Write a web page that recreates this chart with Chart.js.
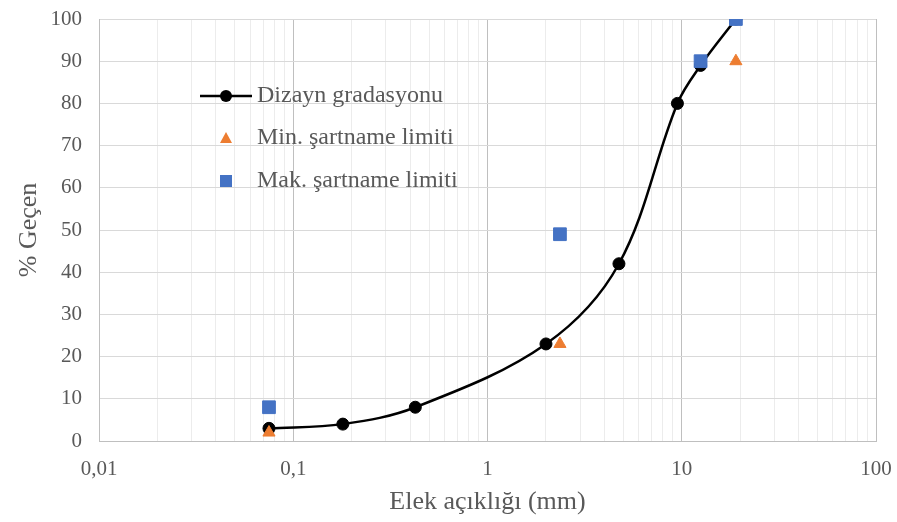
<!DOCTYPE html>
<html>
<head>
<meta charset="utf-8">
<script src="https://cdn.jsdelivr.net/npm/chart.js@4"></script>
<style>
  html, body { margin: 0; padding: 0; background: #fff; }
  #wrap { width: 897px; height: 522px; }
</style>
</head>
<body>
<div id="wrap"><canvas id="c" width="897" height="522"></canvas></div>
<script>
// sieve sizes (mm) and passing %
const designSizes = [0.075, 0.18, 0.425, 2, 4.75, 9.5, 12.5, 19];
const designPass = [3, 4, 8, 23, 42, 80, 89, 100];
const minSizes = [0.075, 2.36, 19];
const minPass = [2, 23, 90];
const maxSizes = [0.075, 2.36, 12.5, 19];
const maxPass = [8, 49, 90, 100];
const xMajorTicks = [0.01, 0.1, 1, 10, 100];
const yTicks = [0, 10, 20, 30, 40, 50, 60, 70, 80, 90, 100];

const labels = ["Dizayn gradasyonu", "Min. şartname limiti", "Mak. şartname limiti"];
const textColor = "#595959";
const serif = "'Liberation Serif', 'DejaVu Serif', serif";

const toXY = (xs, ys) => xs.map((x, i) => ({ x: x, y: ys[i] }));

// legend drawn inside plot area, like the original
const innerLegend = {
  id: "innerLegend",
  afterDraw(chart) {
    const ctx = chart.ctx;
    const rows = [96, 138, 181];
    ctx.save();
    ctx.font = "24px " + serif;
    ctx.textBaseline = "middle";
    chart.data.datasets.forEach((ds, i) => {
      const y = rows[i];
      if (i === 0) {
        ctx.strokeStyle = "#000";
        ctx.lineWidth = 2.5;
        ctx.beginPath();
        ctx.moveTo(200, y);
        ctx.lineTo(252, y);
        ctx.stroke();
        ctx.fillStyle = "#000";
        ctx.beginPath();
        ctx.arc(226, y, 6, 0, Math.PI * 2);
        ctx.fill();
      } else if (i === 1) {
        ctx.fillStyle = ds.backgroundColor;
        ctx.beginPath();
        ctx.moveTo(226, y - 6);
        ctx.lineTo(232, y + 5);
        ctx.lineTo(220, y + 5);
        ctx.closePath();
        ctx.fill();
      } else {
        ctx.fillStyle = ds.backgroundColor;
        ctx.fillRect(220, y - 6, 12, 12);
      }
      ctx.fillStyle = textColor;
      ctx.fillText(ds.label, 257, y);
    });
    ctx.restore();
  }
};

new Chart(document.getElementById("c"), {
  type: "scatter",
  data: {
    datasets: [
      {
        label: labels[0],
        data: toXY(designSizes, designPass),
        showLine: true,
        borderColor: "#000",
        backgroundColor: "#000",
        borderWidth: 2.5,
        pointRadius: 6,
        pointHoverRadius: 6,
        pointBorderWidth: 1,
        tension: 0.35,
        order: 3
      },
      {
        label: labels[1],
        data: toXY(minSizes, minPass),
        pointStyle: "triangle",
        backgroundColor: "#ED7D31",
        borderColor: "#ED7D31",
        pointRadius: 7,
        order: 2
      },
      {
        label: labels[2],
        data: toXY(maxSizes, maxPass),
        pointStyle: "rect",
        backgroundColor: "#4472C4",
        borderColor: "#4472C4",
        pointRadius: 9,
        order: 1
      }
    ]
  },
  options: {
    responsive: false,
    animation: false,
    layout: { padding: { top: 19, right: 21, left: 0, bottom: 0 } },
    plugins: {
      legend: { display: false },
      tooltip: { enabled: false }
    },
    scales: {
      x: {
        type: "logarithmic",
        min: 0.01,
        max: 100,
        afterBuildTicks(scale) {
          const t = [];
          xMajorTicks.forEach((m, i) => {
            if (i === xMajorTicks.length - 1) { t.push({ value: m }); return; }
            for (let k = 1; k <= 9; k++) t.push({ value: m * k });
          });
          scale.ticks = t;
        },
        afterFit(scale) {
          scale.height = 81;
          scale.paddingLeft = 0;
          scale.paddingRight = 0;
        },
        ticks: {
          autoSkip: false,
          maxRotation: 0,
          padding: 16,
          color: textColor,
          font: { family: serif, size: 21 },
          callback(v) {
            return xMajorTicks.includes(v) ? String(v).replace(".", ",") : "";
          }
        },
        grid: {
          drawTicks: false,
          color(ctx) {
            const v = ctx.tick && ctx.tick.value;
            return xMajorTicks.includes(v) ? "#bfbfbf" : "#ececec";
          },
          lineWidth: 1
        },
        border: { color: "#bfbfbf" },
        title: {
          display: true,
          text: "Elek açıklığı (mm)",
          color: textColor,
          font: { family: serif, size: 26 },
          padding: { top: 3 }
        }
      },
      y: {
        min: 0,
        max: 100,
        afterBuildTicks(scale) { scale.ticks = yTicks.map(v => ({ value: v })); },
        afterFit(scale) {
          scale.width = 99;
          scale.paddingTop = 0;
          scale.paddingBottom = 0;
        },
        ticks: {
          padding: 17,
          color: textColor,
          font: { family: serif, size: 21 }
        },
        grid: { drawTicks: false, color: "#d9d9d9" },
        border: { color: "#bfbfbf" },
        title: {
          display: true,
          text: "% Geçen",
          color: textColor,
          font: { family: serif, size: 26 },
          padding: { bottom: 0, top: 14 }
        }
      }
    }
  },
  plugins: [innerLegend]
});
</script>
</body>
</html>
